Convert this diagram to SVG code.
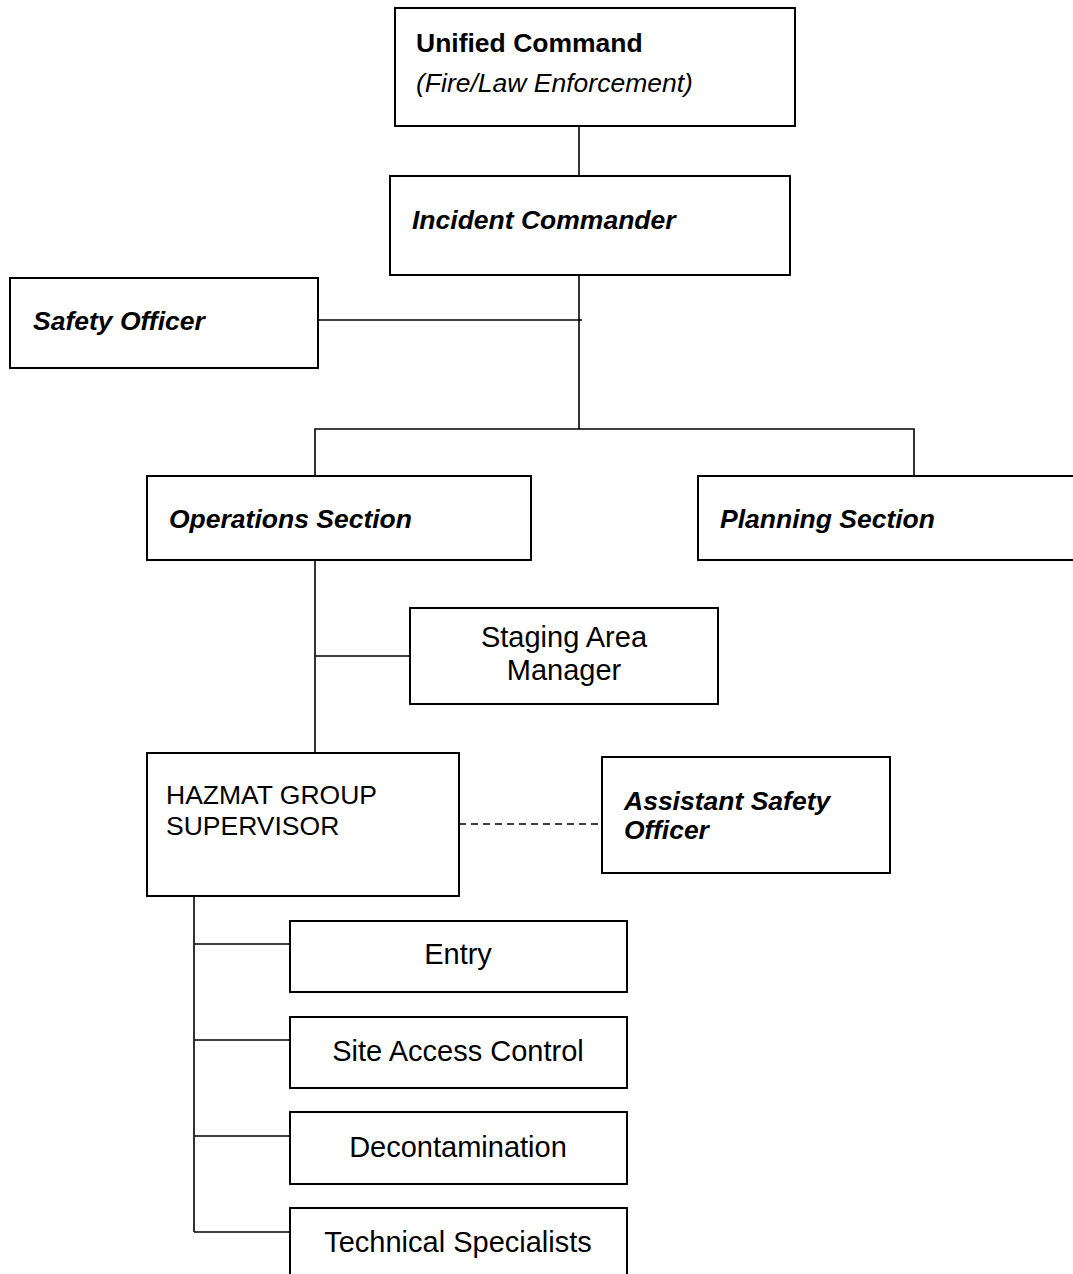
<svg xmlns="http://www.w3.org/2000/svg" width="1073" height="1274" viewBox="0 0 1073 1274">
  <style>
    .box { fill: #ffffff; stroke: #000000; stroke-width: 2; }
    .link { fill: none; stroke: #000000; stroke-width: 1.6; }
    .dash { stroke-dasharray: 7 5; }
    text { font-family: "Liberation Sans", Arial, sans-serif; fill: #000000; }
    .t26 { font-size: 26.5px; }
    .t29 { font-size: 29px; }
    .b { font-weight: bold; }
    .i { font-style: italic; }
    .mid { text-anchor: middle; }
  </style>
  <rect width="1073" height="1274" fill="#ffffff"/>

  <!-- connectors -->
  <g id="connectors">
    <line class="link" x1="579" y1="127" x2="579" y2="176"/>
    <line class="link" x1="579" y1="275" x2="579" y2="429"/>
    <line class="link" x1="318" y1="320" x2="582" y2="320"/>
    <polyline class="link" points="315,476 315,429 914,429 914,476"/>
    <line class="link" x1="315" y1="560" x2="315" y2="753"/>
    <line class="link" x1="315" y1="656" x2="410" y2="656"/>
    <line class="link dash" x1="459" y1="824" x2="602" y2="824"/>
    <line class="link" x1="194" y1="896" x2="194" y2="1232"/>
    <line class="link" x1="194" y1="944" x2="290" y2="944"/>
    <line class="link" x1="194" y1="1040" x2="290" y2="1040"/>
    <line class="link" x1="194" y1="1136" x2="290" y2="1136"/>
    <line class="link" x1="194" y1="1232" x2="290" y2="1232"/>
  </g>

  <g id="unified-command">
    <rect class="box" x="395" y="8" width="400" height="118"/>
    <text class="t26 b" x="416" y="52">Unified Command</text>
    <text class="t26 i" x="416" y="92">(Fire/Law Enforcement)</text>
  </g>

  <g id="incident-commander">
    <rect class="box" x="390" y="176" width="400" height="99"/>
    <text class="t26 b i" x="412" y="229">Incident Commander</text>
  </g>

  <g id="safety-officer">
    <rect class="box" x="10" y="278" width="308" height="90"/>
    <text class="t26 b i" x="33" y="330">Safety Officer</text>
  </g>

  <g id="operations-section">
    <rect class="box" x="147" y="476" width="384" height="84"/>
    <text class="t26 b i" x="169" y="528">Operations Section</text>
  </g>

  <g id="planning-section">
    <rect class="box" x="698" y="476" width="400" height="84"/>
    <text class="t26 b i" x="720" y="528">Planning Section</text>
  </g>

  <g id="staging-area-manager">
    <rect class="box" x="410" y="608" width="308" height="96"/>
    <text class="t29 mid" x="564" y="647">Staging Area</text>
    <text class="t29 mid" x="564" y="680">Manager</text>
  </g>

  <g id="hazmat-group-supervisor">
    <rect class="box" x="147" y="753" width="312" height="143"/>
    <text class="t26" x="166" y="804">HAZMAT GROUP</text>
    <text class="t26" x="166" y="835">SUPERVISOR</text>
  </g>

  <g id="assistant-safety-officer">
    <rect class="box" x="602" y="757" width="288" height="116"/>
    <text class="t26 b i" x="624" y="810">Assistant Safety</text>
    <text class="t26 b i" x="624" y="839">Officer</text>
  </g>

  <g id="entry">
    <rect class="box" x="290" y="921" width="337" height="71"/>
    <text class="t29 mid" x="458" y="964">Entry</text>
  </g>

  <g id="site-access-control">
    <rect class="box" x="290" y="1017" width="337" height="71"/>
    <text class="t29 mid" x="458" y="1061">Site Access Control</text>
  </g>

  <g id="decontamination">
    <rect class="box" x="290" y="1112" width="337" height="72"/>
    <text class="t29 mid" x="458" y="1157">Decontamination</text>
  </g>

  <g id="technical-specialists">
    <rect class="box" x="290" y="1208" width="337" height="80"/>
    <text class="t29 mid" x="458" y="1252">Technical Specialists</text>
  </g>
</svg>
